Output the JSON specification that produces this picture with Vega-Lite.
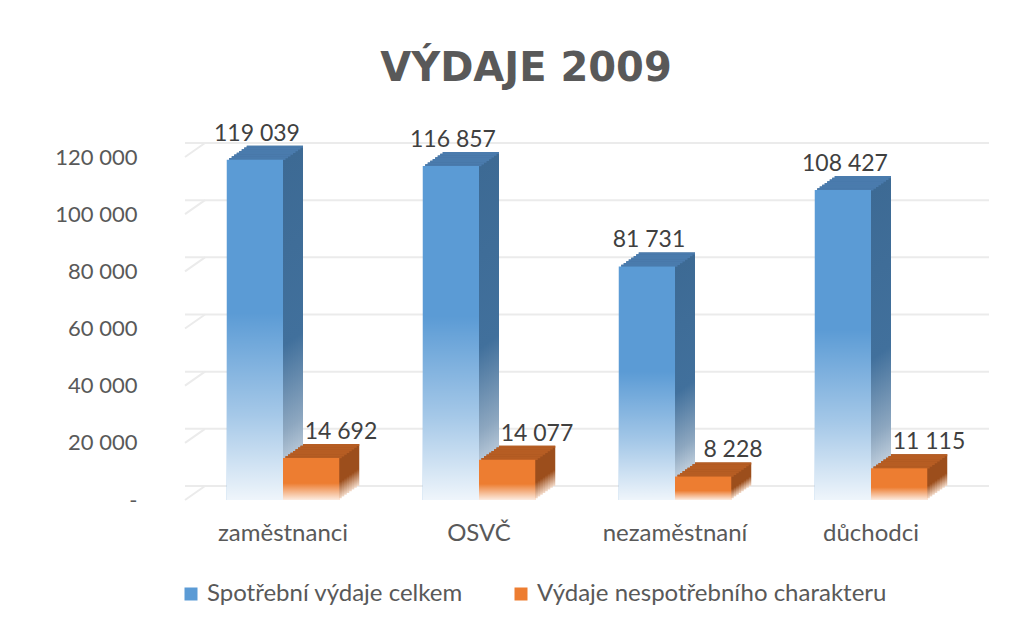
{
  "$schema": "https://vega.github.io/schema/vega-lite/v6.json",
  "autosize": {"type": "none"},
  "padding": {"left": 185, "top": 157, "right": 62, "bottom": 126},
  "width": 784,
  "height": 343,
  "background": "white",
  "title": {"text": "VÝDAJE 2009", "font": "DejaVu Sans", "fontSize": 40, "fontWeight": "bold", "color": "#595959", "anchor": "middle", "frame": "group", "dx": -51, "offset": 2, "baseline": "alphabetic"},
  "config": {
    "locale": {"number": {"decimal": ",", "thousands": "\u00a0", "grouping": [3], "currency": ["", ""]}},
    "view": {"stroke": null},
    "font": "Lato"
  },
  "data": {"values": [
    {"cat": "zaměstnanci", "series": "Spotřební výdaje celkem", "value": 119039},
    {"cat": "zaměstnanci", "series": "Výdaje nespotřebního charakteru", "value": 14692},
    {"cat": "OSVČ", "series": "Spotřební výdaje celkem", "value": 116857},
    {"cat": "OSVČ", "series": "Výdaje nespotřebního charakteru", "value": 14077},
    {"cat": "nezaměstnaní", "series": "Spotřební výdaje celkem", "value": 81731},
    {"cat": "nezaměstnaní", "series": "Výdaje nespotřebního charakteru", "value": 8228},
    {"cat": "důchodci", "series": "Spotřební výdaje celkem", "value": 108427},
    {"cat": "důchodci", "series": "Výdaje nespotřebního charakteru", "value": 11115}
  ]},
  "encoding": {
    "y": {"field": "value", "type": "quantitative", "scale": {"domain": [0, 120000], "nice": false, "zero": true},
      "axis": {"title": null, "values": [0, 20000, 40000, 60000, 80000, 100000, 120000], "domain": false, "ticks": false, "grid": false, "labelPadding": 48, "labelFont": "Lato", "labelFontSize": 22, "labelColor": "#595959", "labelExpr": "datum.value === 0 ? '-\u00a0\u00a0' : format(datum.value, ',')"}}
  },
  "layer": [
    {
      "data": {"values": [{"value": 0}, {"value": 20000}, {"value": 40000}, {"value": 60000}, {"value": 80000}, {"value": 100000}, {"value": 120000}]},
      "mark": {"type": "rule", "color": "#EBEBEB", "strokeWidth": 2, "xOffset": 20, "x2Offset": 20, "yOffset": -14},
      "encoding": {}
    },
    {
      "data": {"values": [{"value": 0}, {"value": 20000}, {"value": 40000}, {"value": 60000}, {"value": 80000}, {"value": 100000}, {"value": 120000}]},
      "mark": {"type": "rule", "color": "#EBEBEB", "strokeWidth": 2, "x2Offset": 20, "y2Offset": -14},
      "encoding": {"x": {"value": 0}, "x2": {"value": 0}, "y2": {"field": "value"}}
    },
    {"transform": [{"filter": "datum.series === 'Spotřební výdaje celkem'"}],
     "mark": {"type": "bar", "width": {"band": 0.5}, "xOffset": -8.125, "yOffset": -14, "y2Offset": -14, "fill": {"gradient": "linear", "x1": 0, "y1": 0, "x2": 0, "y2": 1, "stops": [{"offset": 0, "color": "#3D6A94"}, {"offset": 0.55, "color": "#41709C"}, {"offset": 0.8, "color": "#8DA7C0"}, {"offset": 1, "color": "#E6ECF2"}]}},
     "encoding": {"x": {"field": "cat", "type": "nominal", "sort": ["zaměstnanci", "OSVČ", "nezaměstnaní", "důchodci"], "scale": {"paddingInner": 0.426, "paddingOuter": 0.213}, "axis": {"title": null, "domain": false, "ticks": false, "labelPadding": 40, "labelBaseline": "alphabetic", "labelFont": "Lato", "labelFontSize": 24, "labelColor": "#595959", "labelAngle": 0}}}},
    {"transform": [{"filter": "datum.series !== 'Spotřební výdaje celkem'"}],
     "mark": {"type": "bar", "width": {"band": 0.5}, "xOffset": 48.125, "yOffset": -14, "y2Offset": -14, "fill": {"gradient": "linear", "x1": 0, "y1": 0, "x2": 0, "y2": 1, "stops": [{"offset": 0, "color": "#9C4E1C"}, {"offset": 0.6, "color": "#9C4E1C"}, {"offset": 1, "color": "#F4DCCB"}]}},
     "encoding": {"x": {"field": "cat", "type": "nominal", "sort": ["zaměstnanci", "OSVČ", "nezaměstnaní", "důchodci"]}}},
    {"transform": [{"filter": "datum.series === 'Spotřební výdaje celkem'"}],
     "mark": {"type": "bar", "width": {"band": 0.5}, "xOffset": -10.625, "yOffset": -12.25, "y2Offset": -12.25, "fill": {"gradient": "linear", "x1": 0, "y1": 0, "x2": 0, "y2": 1, "stops": [{"offset": 0, "color": "#3D6A94"}, {"offset": 0.55, "color": "#41709C"}, {"offset": 0.8, "color": "#8DA7C0"}, {"offset": 1, "color": "#E6ECF2"}]}},
     "encoding": {"x": {"field": "cat", "type": "nominal", "sort": ["zaměstnanci", "OSVČ", "nezaměstnaní", "důchodci"]}}},
    {"transform": [{"filter": "datum.series !== 'Spotřební výdaje celkem'"}],
     "mark": {"type": "bar", "width": {"band": 0.5}, "xOffset": 45.625, "yOffset": -12.25, "y2Offset": -12.25, "fill": {"gradient": "linear", "x1": 0, "y1": 0, "x2": 0, "y2": 1, "stops": [{"offset": 0, "color": "#9C4E1C"}, {"offset": 0.6, "color": "#9C4E1C"}, {"offset": 1, "color": "#F4DCCB"}]}},
     "encoding": {"x": {"field": "cat", "type": "nominal", "sort": ["zaměstnanci", "OSVČ", "nezaměstnaní", "důchodci"]}}},
    {"transform": [{"filter": "datum.series === 'Spotřební výdaje celkem'"}],
     "mark": {"type": "bar", "width": {"band": 0.5}, "xOffset": -13.125, "yOffset": -10.5, "y2Offset": -10.5, "fill": {"gradient": "linear", "x1": 0, "y1": 0, "x2": 0, "y2": 1, "stops": [{"offset": 0, "color": "#3D6A94"}, {"offset": 0.55, "color": "#41709C"}, {"offset": 0.8, "color": "#8DA7C0"}, {"offset": 1, "color": "#E6ECF2"}]}},
     "encoding": {"x": {"field": "cat", "type": "nominal", "sort": ["zaměstnanci", "OSVČ", "nezaměstnaní", "důchodci"]}}},
    {"transform": [{"filter": "datum.series !== 'Spotřební výdaje celkem'"}],
     "mark": {"type": "bar", "width": {"band": 0.5}, "xOffset": 43.125, "yOffset": -10.5, "y2Offset": -10.5, "fill": {"gradient": "linear", "x1": 0, "y1": 0, "x2": 0, "y2": 1, "stops": [{"offset": 0, "color": "#9C4E1C"}, {"offset": 0.6, "color": "#9C4E1C"}, {"offset": 1, "color": "#F4DCCB"}]}},
     "encoding": {"x": {"field": "cat", "type": "nominal", "sort": ["zaměstnanci", "OSVČ", "nezaměstnaní", "důchodci"]}}},
    {"transform": [{"filter": "datum.series === 'Spotřební výdaje celkem'"}],
     "mark": {"type": "bar", "width": {"band": 0.5}, "xOffset": -15.625, "yOffset": -8.75, "y2Offset": -8.75, "fill": {"gradient": "linear", "x1": 0, "y1": 0, "x2": 0, "y2": 1, "stops": [{"offset": 0, "color": "#3D6A94"}, {"offset": 0.55, "color": "#41709C"}, {"offset": 0.8, "color": "#8DA7C0"}, {"offset": 1, "color": "#E6ECF2"}]}},
     "encoding": {"x": {"field": "cat", "type": "nominal", "sort": ["zaměstnanci", "OSVČ", "nezaměstnaní", "důchodci"]}}},
    {"transform": [{"filter": "datum.series !== 'Spotřební výdaje celkem'"}],
     "mark": {"type": "bar", "width": {"band": 0.5}, "xOffset": 40.625, "yOffset": -8.75, "y2Offset": -8.75, "fill": {"gradient": "linear", "x1": 0, "y1": 0, "x2": 0, "y2": 1, "stops": [{"offset": 0, "color": "#9C4E1C"}, {"offset": 0.6, "color": "#9C4E1C"}, {"offset": 1, "color": "#F4DCCB"}]}},
     "encoding": {"x": {"field": "cat", "type": "nominal", "sort": ["zaměstnanci", "OSVČ", "nezaměstnaní", "důchodci"]}}},
    {"transform": [{"filter": "datum.series === 'Spotřební výdaje celkem'"}],
     "mark": {"type": "bar", "width": {"band": 0.5}, "xOffset": -18.125, "yOffset": -7, "y2Offset": -7, "fill": {"gradient": "linear", "x1": 0, "y1": 0, "x2": 0, "y2": 1, "stops": [{"offset": 0, "color": "#3D6A94"}, {"offset": 0.55, "color": "#41709C"}, {"offset": 0.8, "color": "#8DA7C0"}, {"offset": 1, "color": "#E6ECF2"}]}},
     "encoding": {"x": {"field": "cat", "type": "nominal", "sort": ["zaměstnanci", "OSVČ", "nezaměstnaní", "důchodci"]}}},
    {"transform": [{"filter": "datum.series !== 'Spotřební výdaje celkem'"}],
     "mark": {"type": "bar", "width": {"band": 0.5}, "xOffset": 38.125, "yOffset": -7, "y2Offset": -7, "fill": {"gradient": "linear", "x1": 0, "y1": 0, "x2": 0, "y2": 1, "stops": [{"offset": 0, "color": "#9C4E1C"}, {"offset": 0.6, "color": "#9C4E1C"}, {"offset": 1, "color": "#F4DCCB"}]}},
     "encoding": {"x": {"field": "cat", "type": "nominal", "sort": ["zaměstnanci", "OSVČ", "nezaměstnaní", "důchodci"]}}},
    {"transform": [{"filter": "datum.series === 'Spotřební výdaje celkem'"}],
     "mark": {"type": "bar", "width": {"band": 0.5}, "xOffset": -20.625, "yOffset": -5.25, "y2Offset": -5.25, "fill": {"gradient": "linear", "x1": 0, "y1": 0, "x2": 0, "y2": 1, "stops": [{"offset": 0, "color": "#3D6A94"}, {"offset": 0.55, "color": "#41709C"}, {"offset": 0.8, "color": "#8DA7C0"}, {"offset": 1, "color": "#E6ECF2"}]}},
     "encoding": {"x": {"field": "cat", "type": "nominal", "sort": ["zaměstnanci", "OSVČ", "nezaměstnaní", "důchodci"]}}},
    {"transform": [{"filter": "datum.series !== 'Spotřební výdaje celkem'"}],
     "mark": {"type": "bar", "width": {"band": 0.5}, "xOffset": 35.625, "yOffset": -5.25, "y2Offset": -5.25, "fill": {"gradient": "linear", "x1": 0, "y1": 0, "x2": 0, "y2": 1, "stops": [{"offset": 0, "color": "#9C4E1C"}, {"offset": 0.6, "color": "#9C4E1C"}, {"offset": 1, "color": "#F4DCCB"}]}},
     "encoding": {"x": {"field": "cat", "type": "nominal", "sort": ["zaměstnanci", "OSVČ", "nezaměstnaní", "důchodci"]}}},
    {"transform": [{"filter": "datum.series === 'Spotřební výdaje celkem'"}],
     "mark": {"type": "bar", "width": {"band": 0.5}, "xOffset": -23.125, "yOffset": -3.5, "y2Offset": -3.5, "fill": {"gradient": "linear", "x1": 0, "y1": 0, "x2": 0, "y2": 1, "stops": [{"offset": 0, "color": "#3D6A94"}, {"offset": 0.55, "color": "#41709C"}, {"offset": 0.8, "color": "#8DA7C0"}, {"offset": 1, "color": "#E6ECF2"}]}},
     "encoding": {"x": {"field": "cat", "type": "nominal", "sort": ["zaměstnanci", "OSVČ", "nezaměstnaní", "důchodci"]}}},
    {"transform": [{"filter": "datum.series !== 'Spotřební výdaje celkem'"}],
     "mark": {"type": "bar", "width": {"band": 0.5}, "xOffset": 33.125, "yOffset": -3.5, "y2Offset": -3.5, "fill": {"gradient": "linear", "x1": 0, "y1": 0, "x2": 0, "y2": 1, "stops": [{"offset": 0, "color": "#9C4E1C"}, {"offset": 0.6, "color": "#9C4E1C"}, {"offset": 1, "color": "#F4DCCB"}]}},
     "encoding": {"x": {"field": "cat", "type": "nominal", "sort": ["zaměstnanci", "OSVČ", "nezaměstnaní", "důchodci"]}}},
    {"transform": [{"filter": "datum.series === 'Spotřební výdaje celkem'"}],
     "mark": {"type": "bar", "width": {"band": 0.5}, "xOffset": -25.625, "yOffset": -1.75, "y2Offset": -1.75, "fill": {"gradient": "linear", "x1": 0, "y1": 0, "x2": 0, "y2": 1, "stops": [{"offset": 0, "color": "#3D6A94"}, {"offset": 0.55, "color": "#41709C"}, {"offset": 0.8, "color": "#8DA7C0"}, {"offset": 1, "color": "#E6ECF2"}]}},
     "encoding": {"x": {"field": "cat", "type": "nominal", "sort": ["zaměstnanci", "OSVČ", "nezaměstnaní", "důchodci"]}}},
    {"transform": [{"filter": "datum.series !== 'Spotřební výdaje celkem'"}],
     "mark": {"type": "bar", "width": {"band": 0.5}, "xOffset": 30.625, "yOffset": -1.75, "y2Offset": -1.75, "fill": {"gradient": "linear", "x1": 0, "y1": 0, "x2": 0, "y2": 1, "stops": [{"offset": 0, "color": "#9C4E1C"}, {"offset": 0.6, "color": "#9C4E1C"}, {"offset": 1, "color": "#F4DCCB"}]}},
     "encoding": {"x": {"field": "cat", "type": "nominal", "sort": ["zaměstnanci", "OSVČ", "nezaměstnaní", "důchodci"]}}},

    {"transform": [{"filter": "datum.series === 'Spotřební výdaje celkem'"}],
     "mark": {"type": "bar", "width": {"band": 0.5}, "xOffset": -25.625, "yOffset": -1.75, "y2Offset": 0.3, "fill": "#4A7BAD"},
     "encoding": {"x": {"field": "cat", "type": "nominal", "sort": ["zaměstnanci", "OSVČ", "nezaměstnaní", "důchodci"]}, "y2": {"field": "value"}}},
    {"transform": [{"filter": "datum.series === 'Spotřební výdaje celkem'"}],
     "mark": {"type": "bar", "width": {"band": 0.5}, "xOffset": -23.125, "yOffset": -3.5, "y2Offset": -1.45, "fill": "#4A7BAD"},
     "encoding": {"x": {"field": "cat", "type": "nominal", "sort": ["zaměstnanci", "OSVČ", "nezaměstnaní", "důchodci"]}, "y2": {"field": "value"}}},
    {"transform": [{"filter": "datum.series === 'Spotřební výdaje celkem'"}],
     "mark": {"type": "bar", "width": {"band": 0.5}, "xOffset": -20.625, "yOffset": -5.25, "y2Offset": -3.2, "fill": "#4A7BAD"},
     "encoding": {"x": {"field": "cat", "type": "nominal", "sort": ["zaměstnanci", "OSVČ", "nezaměstnaní", "důchodci"]}, "y2": {"field": "value"}}},
    {"transform": [{"filter": "datum.series === 'Spotřební výdaje celkem'"}],
     "mark": {"type": "bar", "width": {"band": 0.5}, "xOffset": -18.125, "yOffset": -7, "y2Offset": -4.95, "fill": "#4A7BAD"},
     "encoding": {"x": {"field": "cat", "type": "nominal", "sort": ["zaměstnanci", "OSVČ", "nezaměstnaní", "důchodci"]}, "y2": {"field": "value"}}},
    {"transform": [{"filter": "datum.series === 'Spotřební výdaje celkem'"}],
     "mark": {"type": "bar", "width": {"band": 0.5}, "xOffset": -15.625, "yOffset": -8.75, "y2Offset": -6.7, "fill": "#4A7BAD"},
     "encoding": {"x": {"field": "cat", "type": "nominal", "sort": ["zaměstnanci", "OSVČ", "nezaměstnaní", "důchodci"]}, "y2": {"field": "value"}}},
    {"transform": [{"filter": "datum.series === 'Spotřební výdaje celkem'"}],
     "mark": {"type": "bar", "width": {"band": 0.5}, "xOffset": -13.125, "yOffset": -10.5, "y2Offset": -8.45, "fill": "#4A7BAD"},
     "encoding": {"x": {"field": "cat", "type": "nominal", "sort": ["zaměstnanci", "OSVČ", "nezaměstnaní", "důchodci"]}, "y2": {"field": "value"}}},
    {"transform": [{"filter": "datum.series === 'Spotřební výdaje celkem'"}],
     "mark": {"type": "bar", "width": {"band": 0.5}, "xOffset": -10.625, "yOffset": -12.25, "y2Offset": -10.2, "fill": "#4A7BAD"},
     "encoding": {"x": {"field": "cat", "type": "nominal", "sort": ["zaměstnanci", "OSVČ", "nezaměstnaní", "důchodci"]}, "y2": {"field": "value"}}},
    {"transform": [{"filter": "datum.series === 'Spotřební výdaje celkem'"}],
     "mark": {"type": "bar", "width": {"band": 0.5}, "xOffset": -8.125, "yOffset": -14, "y2Offset": -11.95, "fill": "#4A7BAD"},
     "encoding": {"x": {"field": "cat", "type": "nominal", "sort": ["zaměstnanci", "OSVČ", "nezaměstnaní", "důchodci"]}, "y2": {"field": "value"}}},

    {"transform": [{"filter": "datum.series !== 'Spotřební výdaje celkem'"}],
     "mark": {"type": "bar", "width": {"band": 0.5}, "xOffset": 30.625, "yOffset": -1.75, "y2Offset": 0.3, "fill": "#B65D23"},
     "encoding": {"x": {"field": "cat", "type": "nominal", "sort": ["zaměstnanci", "OSVČ", "nezaměstnaní", "důchodci"]}, "y2": {"field": "value"}}},
    {"transform": [{"filter": "datum.series !== 'Spotřební výdaje celkem'"}],
     "mark": {"type": "bar", "width": {"band": 0.5}, "xOffset": 33.125, "yOffset": -3.5, "y2Offset": -1.45, "fill": "#B65D23"},
     "encoding": {"x": {"field": "cat", "type": "nominal", "sort": ["zaměstnanci", "OSVČ", "nezaměstnaní", "důchodci"]}, "y2": {"field": "value"}}},
    {"transform": [{"filter": "datum.series !== 'Spotřební výdaje celkem'"}],
     "mark": {"type": "bar", "width": {"band": 0.5}, "xOffset": 35.625, "yOffset": -5.25, "y2Offset": -3.2, "fill": "#B65D23"},
     "encoding": {"x": {"field": "cat", "type": "nominal", "sort": ["zaměstnanci", "OSVČ", "nezaměstnaní", "důchodci"]}, "y2": {"field": "value"}}},
    {"transform": [{"filter": "datum.series !== 'Spotřební výdaje celkem'"}],
     "mark": {"type": "bar", "width": {"band": 0.5}, "xOffset": 38.125, "yOffset": -7, "y2Offset": -4.95, "fill": "#B65D23"},
     "encoding": {"x": {"field": "cat", "type": "nominal", "sort": ["zaměstnanci", "OSVČ", "nezaměstnaní", "důchodci"]}, "y2": {"field": "value"}}},
    {"transform": [{"filter": "datum.series !== 'Spotřební výdaje celkem'"}],
     "mark": {"type": "bar", "width": {"band": 0.5}, "xOffset": 40.625, "yOffset": -8.75, "y2Offset": -6.7, "fill": "#B65D23"},
     "encoding": {"x": {"field": "cat", "type": "nominal", "sort": ["zaměstnanci", "OSVČ", "nezaměstnaní", "důchodci"]}, "y2": {"field": "value"}}},
    {"transform": [{"filter": "datum.series !== 'Spotřební výdaje celkem'"}],
     "mark": {"type": "bar", "width": {"band": 0.5}, "xOffset": 43.125, "yOffset": -10.5, "y2Offset": -8.45, "fill": "#B65D23"},
     "encoding": {"x": {"field": "cat", "type": "nominal", "sort": ["zaměstnanci", "OSVČ", "nezaměstnaní", "důchodci"]}, "y2": {"field": "value"}}},
    {"transform": [{"filter": "datum.series !== 'Spotřební výdaje celkem'"}],
     "mark": {"type": "bar", "width": {"band": 0.5}, "xOffset": 45.625, "yOffset": -12.25, "y2Offset": -10.2, "fill": "#B65D23"},
     "encoding": {"x": {"field": "cat", "type": "nominal", "sort": ["zaměstnanci", "OSVČ", "nezaměstnaní", "důchodci"]}, "y2": {"field": "value"}}},
    {"transform": [{"filter": "datum.series !== 'Spotřební výdaje celkem'"}],
     "mark": {"type": "bar", "width": {"band": 0.5}, "xOffset": 48.125, "yOffset": -14, "y2Offset": -11.95, "fill": "#B65D23"},
     "encoding": {"x": {"field": "cat", "type": "nominal", "sort": ["zaměstnanci", "OSVČ", "nezaměstnaní", "důchodci"]}, "y2": {"field": "value"}}},

    {"transform": [{"filter": "datum.series === 'Spotřební výdaje celkem'"}],
     "mark": {"type": "bar", "width": {"band": 0.5}, "xOffset": -28.125},
     "encoding": {"x": {"field": "cat", "type": "nominal", "sort": ["zaměstnanci", "OSVČ", "nezaměstnaní", "důchodci"]},
       "color": {"field": "series", "type": "nominal", "scale": {"domain": ["Spotřební výdaje celkem", "Výdaje nespotřebního charakteru"], "range": ["#5B9BD5", "#ED7D31"]},
         "legend": {"orient": "none", "legendX": -6, "legendY": 425, "direction": "horizontal", "title": null, "symbolType": "square", "symbolSize": 169, "symbolStrokeWidth": 0, "labelFont": "Lato", "labelFontSize": 24, "labelColor": "#595959", "labelOffset": 4, "columnPadding": 46, "padding": 0, "labelLimit": 400}}}},
    {"transform": [{"filter": "datum.series !== 'Spotřební výdaje celkem'"}],
     "mark": {"type": "bar", "width": {"band": 0.5}, "xOffset": 28.125},
     "encoding": {"x": {"field": "cat", "type": "nominal", "sort": ["zaměstnanci", "OSVČ", "nezaměstnaní", "důchodci"]},
       "color": {"field": "series", "type": "nominal"}}},
    {"transform": [{"filter": "datum.series === 'Spotřební výdaje celkem'"}],
     "mark": {"type": "bar", "width": {"band": 0.5}, "xOffset": -28.125, "fill": {"gradient": "linear", "x1": 0, "y1": 0, "x2": 0, "y2": 1, "stops": [{"offset": 0, "color": "rgba(255,255,255,0)"}, {"offset": 0.45, "color": "rgba(255,255,255,0)"}, {"offset": 0.75, "color": "rgba(255,255,255,0.45)"}, {"offset": 1, "color": "rgba(255,255,255,0.9)"}]}},
     "encoding": {"x": {"field": "cat", "type": "nominal", "sort": ["zaměstnanci", "OSVČ", "nezaměstnaní", "důchodci"]}}},
    {"transform": [{"filter": "datum.series !== 'Spotřební výdaje celkem'"}],
     "mark": {"type": "bar", "width": {"band": 0.5}, "xOffset": 28.125, "fill": {"gradient": "linear", "x1": 0, "y1": 0, "x2": 0, "y2": 1, "stops": [{"offset": 0, "color": "rgba(255,255,255,0)"}, {"offset": 0.6, "color": "rgba(255,255,255,0)"}, {"offset": 1, "color": "rgba(255,255,255,0.85)"}]}},
     "encoding": {"x": {"field": "cat", "type": "nominal", "sort": ["zaměstnanci", "OSVČ", "nezaměstnaní", "důchodci"]}}},
    {"transform": [{"filter": "datum.series === 'Spotřební výdaje celkem'"}],
     "mark": {"type": "text", "dx": -26, "dy": -19, "baseline": "alphabetic", "align": "center", "font": "Lato", "fontSize": 23, "color": "#404040"},
     "encoding": {"x": {"field": "cat", "type": "nominal", "sort": ["zaměstnanci", "OSVČ", "nezaměstnaní", "důchodci"]},
       "text": {"field": "value", "type": "quantitative", "format": ","}}},
    {"transform": [{"filter": "datum.series !== 'Spotřební výdaje celkem'"}],
     "mark": {"type": "text", "dx": 58, "dy": -19, "baseline": "alphabetic", "align": "center", "font": "Lato", "fontSize": 23, "color": "#404040"},
     "encoding": {"x": {"field": "cat", "type": "nominal", "sort": ["zaměstnanci", "OSVČ", "nezaměstnaní", "důchodci"]},
       "text": {"field": "value", "type": "quantitative", "format": ","}}}
  ]
}
